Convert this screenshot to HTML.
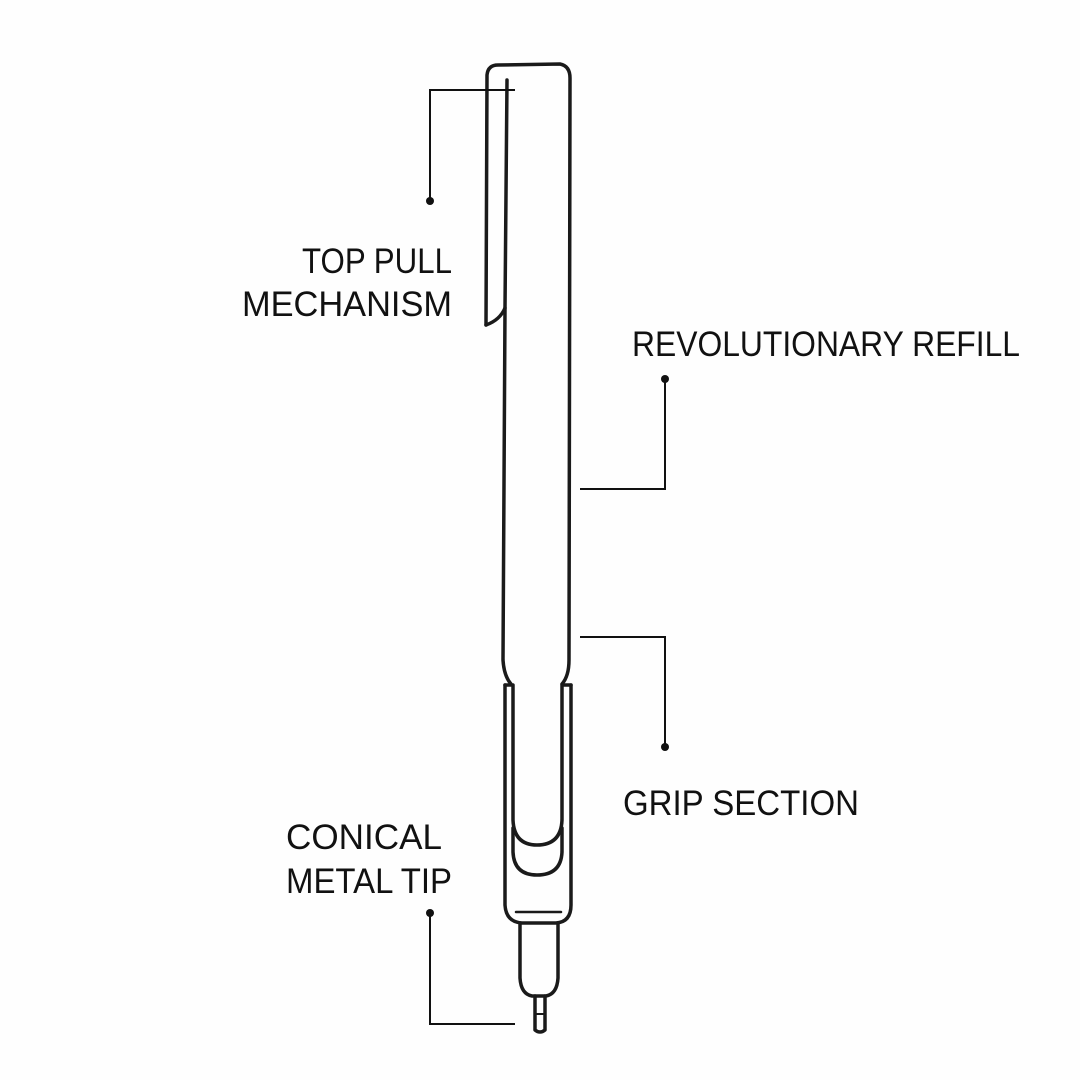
<!DOCTYPE html>
<html><head><style>html,body{margin:0;padding:0;background:#fff}svg{display:block}</style></head>
<body>
<svg width="1080" height="1080" viewBox="0 0 1080 1080" xmlns="http://www.w3.org/2000/svg">
<rect width="1080" height="1080" fill="#fefefe"/>
<g fill="none" stroke="#1a1a1a" stroke-width="3.5" stroke-linecap="round" stroke-linejoin="round">
<path d="M486,325 L487,75 Q488,65 498,65 L560,64 Q570,66 570,78 L569,660 Q569,676 562,684"/>
<path d="M486,325 Q500,320 505,308 L507,80"/>
<path d="M505,308 L503,660 Q504,676 511,684"/>
<path d="M505,685 L505,905 Q506,922 522,923 L556,923 Q571,922 571,905 L571,685"/>
<path d="M505,685 L511,685 M571,685 L563,685"/>
<path d="M513,685 L513,820 Q514,845 537,845 Q561,845 562,820 L562,685"/>
<path d="M513,828 L513,852 Q514,875 537,875 Q561,875 562,852 L562,828"/>
<path d="M516,912 L561,912" stroke-width="2.5"/>
<path d="M520,923 L520,978 Q521,994 532,996 L546,996 Q557,994 558,978 L558,923"/>
<path d="M535,996 L535,1030 Q540,1034 545,1030 L545,996"/>
<path d="M536,1014 L544,1014" stroke-width="2"/>
</g>
<g fill="none" stroke="#111" stroke-width="2">
<path d="M515,90 L430,90 L430,200"/>
<path d="M665,379 L665,489 L580,489"/>
<path d="M580,637 L665,637 L665,747"/>
<path d="M430,913 L430,1024 L515,1024"/>
</g>
<g fill="#111">
<circle cx="430" cy="201" r="4"/>
<circle cx="665" cy="379" r="4"/>
<circle cx="665" cy="747" r="4"/>
<circle cx="430" cy="913" r="4"/>
</g>
<g font-family="Liberation Sans, sans-serif" font-size="35" fill="#111">
<text x="302" y="273" textLength="150" lengthAdjust="spacingAndGlyphs">TOP PULL</text>
<text x="242" y="316" textLength="210" lengthAdjust="spacingAndGlyphs">MECHANISM</text>
<text x="632" y="356" textLength="388" lengthAdjust="spacingAndGlyphs">REVOLUTIONARY REFILL</text>
<text x="623" y="815" textLength="236" lengthAdjust="spacingAndGlyphs">GRIP SECTION</text>
<text x="286" y="849" textLength="156" lengthAdjust="spacingAndGlyphs">CONICAL</text>
<text x="286" y="893" textLength="166" lengthAdjust="spacingAndGlyphs">METAL TIP</text>
</g>
</svg>
</body></html>
